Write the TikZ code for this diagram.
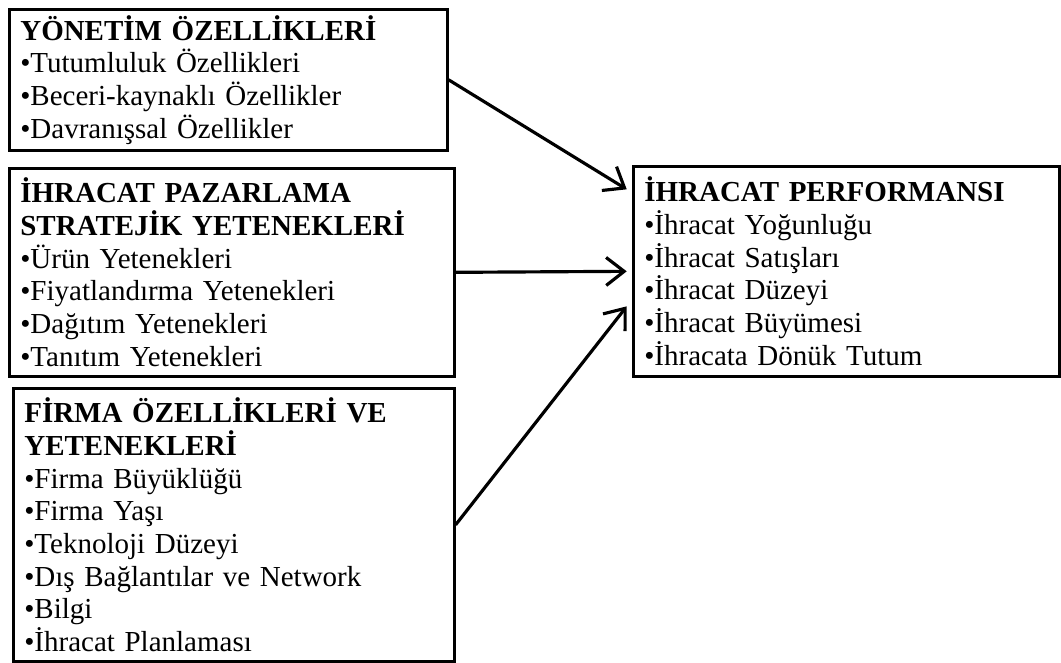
\documentclass[tikz,border=0pt]{standalone}
\usepackage{fontspec}
\setmainfont{Liberation Serif}[BoldFont={Liberation Serif Bold}]
\usetikzlibrary{arrows.meta, positioning}

\begin{document}
\begin{tikzpicture}[>={Straight Barb[length=3.6mm,width=5.6mm]},
    every node/.style={font=\fontsize{16.5}{18.6}\selectfont},
    factorbox/.style={draw, line width=1.5pt, anchor=north west, align=left, inner xsep=0.22cm, inner ysep=0pt},
    link/.style={->, line width=1.8pt}]
    \useasboundingbox (0,0) rectangle (21.22,-13.24);
    % sol taraftaki kutular
    \node[factorbox, text width=8.32cm, minimum height=2.82cm] (yonetim) at (0.16,-0.16)
        {\textbf{YÖNETİM ÖZELLİKLERİ}\\•Tutumluluk Özellikleri\\•Beceri-kaynaklı Özellikler\\•Davranışsal Özellikler};
    \node[factorbox, text width=8.46cm, minimum height=4.16cm] (pazarlama) at (0.16,-3.34)
        {\textbf{İHRACAT PAZARLAMA}\\\textbf{STRATEJİK YETENEKLERİ}\\•Ürün Yetenekleri\\•Fiyatlandırma Yetenekleri\\•Dağıtım Yetenekleri\\•Tanıtım Yetenekleri};
    \node[factorbox, text width=8.38cm, minimum height=5.46cm] (firma) at (0.24,-7.74)
        {\textbf{FİRMA ÖZELLİKLERİ VE}\\\textbf{YETENEKLERİ}\\•Firma Büyüklüğü\\•Firma Yaşı\\•Teknoloji Düzeyi\\•Dış Bağlantılar ve Network\\•Bilgi\\•İhracat Planlaması};
    % sonuç kutusu
    \node[factorbox, text width=8.08cm, minimum height=4.2cm] (performans) at (12.64,-3.30)
        {\textbf{İHRACAT PERFORMANSI}\\•İhracat Yoğunluğu\\•İhracat Satışları\\•İhracat Düzeyi\\•İhracat Büyümesi\\•İhracata Dönük Tutum};
    \draw[link] (yonetim.east) -- ([xshift=-3pt, yshift=1.64cm]performans.west);
    \draw[link] (pazarlama.east) -- ([xshift=-3pt]performans.west);
    \draw[link] (firma.east) -- ([xshift=-3pt, yshift=-0.7cm]performans.west);
\end{tikzpicture}
\end{document}
